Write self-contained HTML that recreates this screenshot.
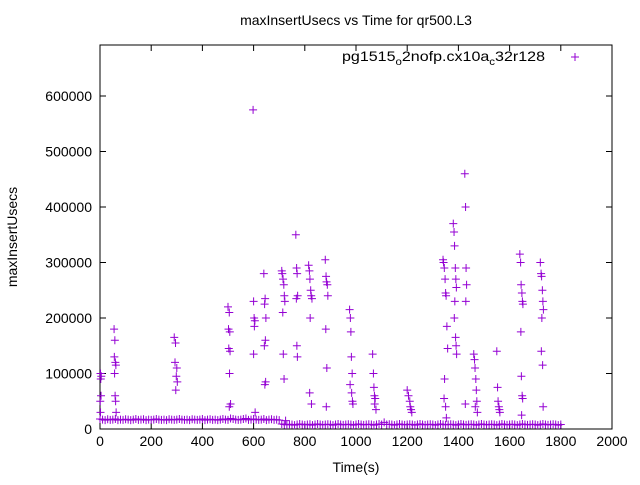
<!DOCTYPE html>
<html><head><meta charset="utf-8"><style>
body{margin:0;background:#fff}
svg text{font-family:"Liberation Sans",sans-serif;font-size:14px;fill:#000}
</style></head><body>
<svg id="c" width="640" height="480" xmlns="http://www.w3.org/2000/svg">
<text x="356" y="25" text-anchor="middle">maxInsertUsecs vs Time for qr500.L3</text>
<text transform="translate(17,237) rotate(-90)" text-anchor="middle">maxInsertUsecs</text>
<text x="356" y="472" text-anchor="middle">Time(s)</text>
<g id="ax"></g>
<g id="pts"></g>
<g>
<text x="342" y="61" textLength="203" lengthAdjust="spacingAndGlyphs">pg1515<tspan dy="4" font-size="10">o</tspan><tspan dy="-4">2nofp.cx10a</tspan><tspan dy="4" font-size="10">c</tspan><tspan dy="-4">32r128</tspan></text>
<path d="M571,57h8M575,53v8" stroke="#9400d3" stroke-width="1"/>
</g>
</svg>
<script>
const xTicks=[0,200,400,600,800,1000,1200,1400,1600,1800,2000];
const yTicks=[0,100000,200000,300000,400000,500000,600000];
const baseStart=0, baseStep=10;
const baseVals=[18000,17000,16000,17500,16500,17000,18000,16000,17000,16500,17500,17000,16000,17000,18000,16500,17000,17500,16000,17000,16500,17000,18000,17000,16500,17000,16000,17500,17000,16500,17000,18000,17000,16500,17000,16000,17500,17000,16500,17000,18000,16000,17000,17500,16500,17000,16000,17000,18000,17000,16500,19000,18000,17000,16500,17000,18000,19000,16500,17000,18000,17000,16500,17000,18000,16000,17000,17500,16500,17000,16000,
9000,8000,7500,8500,8000,7000,8000,9000,8000,7500,8000,8500,7000,8000,9000,8000,7500,8000,8500,8000,7000,8000,9000,8000,7500,8000,8500,8000,7000,8000,9000,8000,7500,8000,8500,8000,7000,8000,9000,8000,12000,8000,8500,8000,7000,8000,9000,8000,7500,8000,8500,8000,7000,8000,9000,8000,7500,8000,8500,8000,7000,8000,9000,8000,7500,8000,8500,8000,7000,8000,9000,8000,7500,8000,8500,8000,7000,8000,9000,8000,7500,8000,8500,8000,7000,8000,9000,8000,7500,8000,8500,8000,7000,8000,9000,8000,7500,8000,8500,8000,7000,8000,9000,8000,7500,8000,8500,8000,7000,8000];
const spikeT=[2,3,4,2,5,1,
55,58,56,60,62,57,59,61,63,
290,295,293,300,298,302,296,
500,505,502,507,503,508,506,510,505,
598,600,602,605,603,600,606,
640,645,643,648,646,642,647,644,
710,712,715,718,720,722,714,716,719,725,
765,768,770,772,767,769,771,
815,818,820,823,825,828,821,819,826,
880,883,885,888,890,882,886,884,
975,978,980,982,985,977,983,986,988,
1065,1068,1070,1072,1075,1073,1078,
1200,1205,1210,1212,1215,1218,
1340,1342,1345,1348,1350,1352,1355,1358,1346,1344,1350,1353,
1380,1383,1385,1388,1390,1392,1386,1384,1389,1391,1393,
1425,1428,1430,1432,1429,1427,
1460,1463,1465,1468,1470,1472,1466,1474,
1550,1553,1555,1558,1560,1562,
1640,1643,1645,1648,1650,1652,1644,1646,1649,1651,1647,
1720,1723,1725,1728,1730,1732,1726,1724,1729,1731];
const spikeV=[100000,90000,60000,30000,95000,50000,
180000,160000,130000,120000,115000,100000,60000,50000,30000,
165000,155000,120000,110000,95000,85000,70000,
220000,210000,180000,175000,145000,140000,100000,45000,40000,
575000,230000,200000,195000,185000,135000,30000,
280000,235000,225000,200000,160000,150000,85000,80000,
285000,280000,270000,260000,240000,230000,210000,135000,90000,15000,
350000,290000,280000,240000,235000,150000,130000,
295000,285000,270000,250000,240000,235000,200000,65000,45000,
305000,275000,265000,260000,240000,180000,110000,40000,
215000,200000,175000,130000,100000,80000,65000,50000,45000,
135000,100000,75000,60000,55000,45000,35000,
70000,60000,50000,40000,35000,30000,
305000,300000,290000,270000,245000,240000,185000,145000,90000,55000,40000,20000,
370000,355000,330000,290000,270000,255000,230000,200000,165000,150000,135000,
460000,400000,290000,260000,230000,45000,
135000,125000,110000,90000,70000,50000,40000,30000,
140000,75000,50000,40000,35000,30000,
315000,300000,260000,245000,230000,225000,175000,95000,60000,55000,25000,
300000,280000,275000,250000,230000,215000,200000,140000,115000,40000];
const X0=100,X1=612,Y0=429,Y1=45;
const xs=t=>X0+t*(X1-X0)/2000;
const ys=v=>Y0-v*(Y0-96)/600000;
const NS="http://www.w3.org/2000/svg";
const ax=document.getElementById('ax'),pts=document.getElementById('pts');
function mk(tag,at,parent){const e=document.createElementNS(NS,tag);for(const k in at)e.setAttribute(k,at[k]);parent.appendChild(e);return e;}
const fr=mk('rect',{x:X0,y:Y1,width:X1-X0,height:Y0-Y1,fill:'none',stroke:'#000','stroke-width':1},ax);


xTicks.forEach(t=>{const x=xs(t);
 const p=mk('path',{d:`M${x},${Y0}v-6M${x},${Y1}v6`,stroke:'#000'},ax);
 
 
 const tx=mk('text',{x:x,y:Y0+17,'text-anchor':'middle'},ax);tx.textContent=t;
 
 });
yTicks.forEach(v=>{const y=ys(v);
 const p=mk('path',{d:`M${X0},${y}h6M${X1},${y}h-6`,stroke:'#000'},ax);
 
 
 const tx=mk('text',{x:X0-8,y:y+5,'text-anchor':'end'},ax);tx.textContent=v;
 
 });
function cross(t,v,name){const x=xs(t),y=ys(v);
 const p=mk('path',{d:`M${x-4},${y}h8M${x},${y-4}v8`,stroke:'#9400d3','stroke-width':1},pts);
 
 }
baseVals.forEach((v,i)=>cross(baseStart+i*baseStep,v,'baseline-point'));
spikeT.forEach((t,i)=>cross(t,spikeV[i],'spike-point'));
</script>
</body></html>
